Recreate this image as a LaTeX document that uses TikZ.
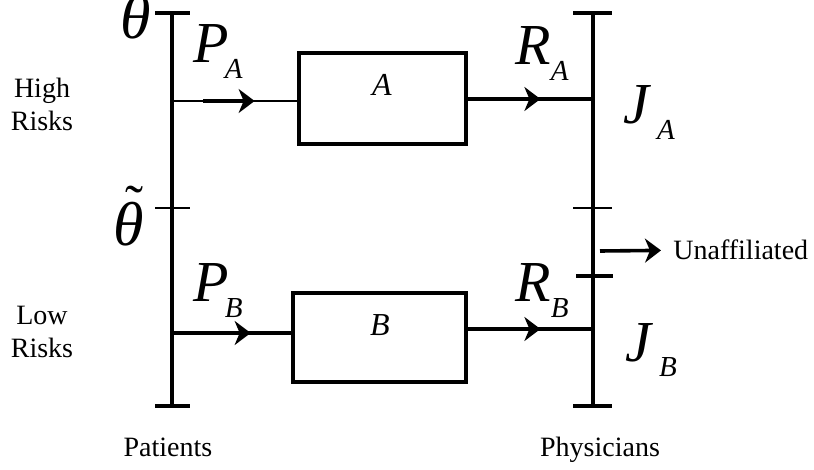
\documentclass[tikz,border=0pt]{standalone}
\usepackage{fontspec}
\setmainfont{Liberation Serif}
\usetikzlibrary{arrows.meta,calc,decorations.markings}
\newcommand{\mvar}[3][0pt]{{\fontsize{29}{29}\selectfont\itshape #2}\kern#1\raisebox{-8pt}{\fontsize{14.5}{14.5}\selectfont\itshape #3}}

\begin{document}
\begin{tikzpicture}[x=0.5pt, y=-0.5pt,
    axis/.style={line width=2pt},
    tickmark/.style={line width=2pt},
    thintick/.style={line width=1.3pt},
    planbox/.style={draw, line width=1.8pt, inner sep=0pt},
    thinline/.style={line width=1pt},
    flowtip/.style={-{Stealth[length=8pt, width=12pt, inset=2.5pt]}},
    flow/.style={line width=1.8pt, postaction={decorate},
      decoration={markings, mark=at position #1 with {\arrow{Stealth[length=8pt, width=12pt, inset=2.5pt]}}}},
    txt/.style={font=\fontsize{14}{16.5}\selectfont, inner sep=0pt},
    mathlbl/.style={inner sep=0pt},
    greek/.style={inner sep=0pt, font=\fontsize{31}{31}\selectfont\itshape}
  ]
  \useasboundingbox (0,0) rectangle (814,470);

  % the two axes
  \coordinate (patTop) at (172,13);
  \coordinate (patBot) at (172,406);
  \coordinate (phyTop) at (593,13);
  \coordinate (phyBot) at (593,406);
  \draw[axis] (patTop) -- (patBot);
  \draw[axis] (phyTop) -- (phyBot);
  \draw[tickmark] (155,13) -- (190,13);
  \draw[tickmark] (155,406) -- (190,406);
  \draw[thintick] (155,208) -- (190,208);
  \draw[tickmark] (573,13) -- (612,13);
  \draw[tickmark] (573,406) -- (612,406);
  \draw[thintick] (573,208) -- (612,208);
  \draw[line width=1.6pt] (576,276) -- (613,276);

  % plans
  \node[planbox, minimum width=83.5pt, minimum height=45.5pt] (boxA) at (382.5,98.5) {};
  \node[planbox, minimum width=86.5pt, minimum height=44.5pt] (boxB) at (379.5,337.5) {};
  \node[inner sep=0pt, font=\fontsize{16}{16}\selectfont\itshape] (labA) at (382,85) {A};
  \node[inner sep=0pt, font=\fontsize{16}{16}\selectfont\itshape] (labB) at (380,325) {B};

  % flows
  \coordinate (pa) at (172,101);
  \coordinate (pb) at (172,333);
  \coordinate (ra) at (593,99);
  \coordinate (rb) at (593,329);
  \draw[thinline] (pa) -- (pa -| boxA.west);
  \draw[line width=1.8pt, flowtip] ($(pa)!0.25!(pa -| boxA.west)$) -- ($(pa)!0.66!(pa -| boxA.west)$);
  \draw[flow=0.66] (pb) -- (pb -| boxB.west);
  \draw[flow=0.58] (boxA.east |- ra) -- (ra);
  \draw[flow=0.58] (boxB.east |- rb) -- (rb);

  % unaffiliated
  \coordinate (unS) at (600,251);
  \node[txt, anchor=base west] (unaff) at (673,260) {Unaffiliated};
  \draw[line width=1.8pt, flowtip, shorten >=6pt] (unS) -- (unaff.west);

  % symbols
  \node[mathlbl, anchor=base west] (lblPA) at (193,63) {\mvar[-2pt]{P}{A}};
  \node[mathlbl, anchor=base west] (lblPB) at (193,302) {\mvar[-2pt]{P}{B}};
  \node[mathlbl, anchor=base west] (lblRA) at (515,65) {\mvar{R}{A}};
  \node[mathlbl, anchor=base west] (lblRB) at (515,302) {\mvar{R}{B}};
  \node[mathlbl, anchor=base west] (lblJA) at (623,124) {\mvar[4pt]{J}{A}};
  \node[mathlbl, anchor=base west] (lblJB) at (625,361) {\mvar[4pt]{J}{B}};
  \node[greek, anchor=base] (theta) at (136,39) {θ};
  \node[greek, anchor=base] (thetaT) at (129,246) {θ};
  \node[inner sep=0pt, font=\fontsize{27}{27}\selectfont] (tilde) at (134,204) {˜};

  % side texts
  \node[txt, align=center] (high) at (42,104) {High\\Risks};
  \node[txt, align=center] (low) at (42,332) {Low\\Risks};
  \node[txt, anchor=base] (pat) at (168,456) {Patients};
  \node[txt, anchor=base] (phy) at (600,456) {Physicians};
\end{tikzpicture}
\end{document}
